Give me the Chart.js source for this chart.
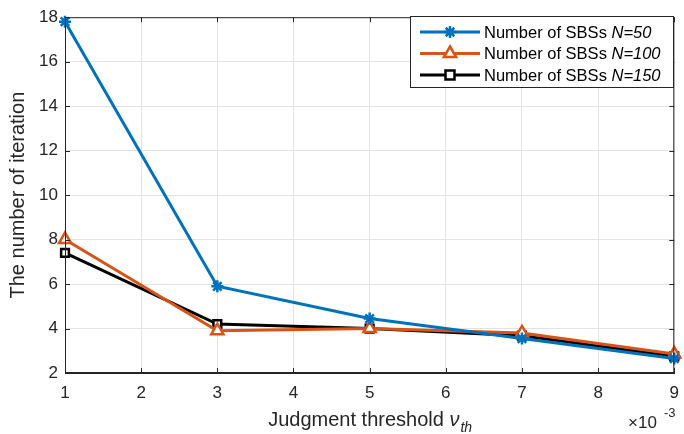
<!DOCTYPE html>
<html>
<head>
<meta charset="utf-8">
<script src="https://cdn.jsdelivr.net/npm/chart.js@4/dist/chart.umd.min.js"></script>
<style>
  html, body { margin: 0; padding: 0; background: #fff; overflow: hidden; }
  #wrap { width: 689px; height: 434px; }
</style>
</head>
<body>
<div id="wrap"><canvas id="iterChart"></canvas></div>
<script>
// threshold values (x 10^-3)
const thresholds = [1, 3, 5, 7, 9];
const iterN50 = [17.8, 5.9, 4.45, 3.55, 2.65];
const iterN100 = [8.0, 3.9, 4.0, 3.8, 2.85];
const iterN150 = [7.4, 4.2, 4.0, 3.68, 2.75];
const seriesNames = ['N=50', 'N=100', 'N=150'];

const FONT = '"Liberation Sans", Arial, Helvetica, sans-serif';
const BLUE = '#0072BD';
const ORANGE = '#D95319';

function toPoints(vals) {
    return thresholds.map((t, i) => ({ x: t, y: vals[i] }));
}

// draws a marker like the ones in the plot, for the legend
function drawMarker(ctx, style, x, y, color) {
    ctx.save();
    ctx.strokeStyle = color;
    ctx.lineWidth = 2.5;
    ctx.fillStyle = '#fff';
    ctx.beginPath();
    if (style === 'star') {
        const r = 6;
        for (let a = 0; a < 4; a++) {
            const ang = a * Math.PI / 4;
            ctx.moveTo(x - r * Math.cos(ang), y - r * Math.sin(ang));
            ctx.lineTo(x + r * Math.cos(ang), y + r * Math.sin(ang));
        }
        ctx.stroke();
    } else if (style === 'triangle') {
        const r = 7;
        ctx.moveTo(x, y - r);
        ctx.lineTo(x + r * 0.87, y + r * 0.5);
        ctx.lineTo(x - r * 0.87, y + r * 0.5);
        ctx.closePath();
        ctx.fill();
        ctx.stroke();
    } else {
        const r = 4.5;
        ctx.rect(x - r, y - r, 2 * r, 2 * r);
        ctx.fill();
        ctx.stroke();
    }
    ctx.restore();
}

const matlabLook = {
    id: 'matlabLook',
    afterDraw(chart) {
        const { ctx, chartArea: a, scales } = chart;
        ctx.save();
        // box
        ctx.strokeStyle = '#262626';
        ctx.lineWidth = 1;
        ctx.strokeRect(a.left + 0.5, a.top + 0.5, a.right - a.left - 1, a.bottom - a.top - 1);
        // inward ticks on all four sides
        ctx.beginPath();
        const tl = 5;
        scales.x.ticks.forEach(t => {
            const px = Math.round(scales.x.getPixelForValue(t.value)) + 0.5;
            ctx.moveTo(px, a.bottom); ctx.lineTo(px, a.bottom - tl);
            ctx.moveTo(px, a.top); ctx.lineTo(px, a.top + tl);
        });
        scales.y.ticks.forEach(t => {
            const py = Math.round(scales.y.getPixelForValue(t.value)) + 0.5;
            ctx.moveTo(a.left, py); ctx.lineTo(a.left + tl, py);
            ctx.moveTo(a.right, py); ctx.lineTo(a.right - tl, py);
        });
        ctx.stroke();

        // x axis title with italic nu_th
        ctx.fillStyle = '#262626';
        ctx.textBaseline = 'alphabetic';
        const base = 'Judgment threshold ';
        ctx.font = '20px ' + FONT;
        const w1 = ctx.measureText(base).width;
        ctx.font = 'italic 20px ' + FONT;
        const w2 = ctx.measureText('\u03BD').width;
        ctx.font = 'italic 14px ' + FONT;
        const w3 = ctx.measureText('th').width;
        let sx = (a.left + a.right) / 2 - (w1 + w2 + w3) / 2;
        const by = 426;
        ctx.font = '20px ' + FONT;
        ctx.fillText(base, sx, by);
        ctx.font = 'italic 20px ' + FONT;
        ctx.fillText('\u03BD', sx + w1, by);
        ctx.font = 'italic 14px ' + FONT;
        ctx.fillText('th', sx + w1 + w2 + 1, by + 6);

        // exponent label
        ctx.font = '17px ' + FONT;
        ctx.textAlign = 'left';
        ctx.fillText('\u00D710', 628, 428);
        ctx.font = '13px ' + FONT;
        ctx.fillText('-3', 664, 417);

        // legend box, anchored to the top right of the plot
        const lw = 264, lh = 72;
        const lx = Math.round(a.right) - lw, ly = Math.round(a.top) - 1;
        ctx.fillStyle = '#fff';
        ctx.fillRect(lx, ly, lw, lh);
        ctx.strokeStyle = '#262626';
        ctx.lineWidth = 1;
        ctx.strokeRect(lx + 0.5, ly + 0.5, lw - 1, lh - 1);
        const rows = [
            { color: BLUE, style: 'star' },
            { color: ORANGE, style: 'triangle' },
            { color: '#000', style: 'rect' }
        ];
        rows.forEach((r, i) => {
            const y = ly + 16 + i * 21.5;
            ctx.strokeStyle = r.color;
            ctx.lineWidth = 3;
            ctx.beginPath();
            ctx.moveTo(lx + 10, y);
            ctx.lineTo(lx + 70, y);
            ctx.stroke();
            drawMarker(ctx, r.style, lx + 40, y, r.color);
            ctx.fillStyle = '#000';
            ctx.textBaseline = 'middle';
            ctx.font = '16.5px ' + FONT;
            const t = 'Number of SBSs ';
            ctx.fillText(t, lx + 74, y + 1);
            const tw = ctx.measureText(t).width;
            ctx.font = 'italic 16.5px ' + FONT;
            ctx.fillText(seriesNames[i], lx + 74 + tw, y + 1);
        });
        ctx.restore();
    }
};

const ctx = document.getElementById('iterChart').getContext('2d');
const chart = new Chart(ctx, {
    type: 'line',
    data: {
        datasets: [
            {
                label: 'Number of SBSs N=50',
                data: toPoints(iterN50),
                borderColor: BLUE,
                pointBorderColor: BLUE,
                pointBackgroundColor: BLUE,
                pointStyle: 'star',
                pointRadius: 6,
                pointBorderWidth: 2.5,
                clip: false
            },
            {
                label: 'Number of SBSs N=100',
                data: toPoints(iterN100),
                borderColor: ORANGE,
                pointBorderColor: ORANGE,
                pointBackgroundColor: '#fff',
                pointStyle: 'triangle',
                pointRadius: 7,
                pointBorderWidth: 2.5,
                clip: false
            },
            {
                label: 'Number of SBSs N=150',
                data: toPoints(iterN150),
                borderColor: '#000',
                pointBorderColor: '#000',
                pointBackgroundColor: '#fff',
                pointStyle: 'rect',
                pointRadius: 5.5,
                pointBorderWidth: 2.5,
                clip: false
            }
        ]
    },
    options: {
        responsive: true,
        maintainAspectRatio: false,
        animation: false,
        devicePixelRatio: 1,
        layout: { padding: { top: 17, right: 0, left: 0, bottom: 0 } },
        elements: { line: { borderWidth: 3, tension: 0 } },
        plugins: {
            legend: { display: false },
            tooltip: { enabled: false }
        },
        scales: {
            x: {
                type: 'linear',
                min: 1,
                max: 9,
                ticks: {
                    stepSize: 1,
                    color: '#262626',
                    font: { family: FONT, size: 17 },
                    padding: 10
                },
                grid: { color: '#e3e3e3', drawTicks: false },
                border: { color: '#262626' },
                afterFit(s) { s.height = 61; }
            },
            y: {
                min: 2,
                max: 18,
                ticks: {
                    stepSize: 2,
                    color: '#262626',
                    font: { family: FONT, size: 17 },
                    padding: 7
                },
                grid: { color: '#e3e3e3', drawTicks: false },
                border: { color: '#262626' },
                title: {
                    display: true,
                    text: 'The number of iteration',
                    color: '#262626',
                    font: { family: FONT, size: 20 },
                    padding: { top: 6, bottom: 4 }
                },
                afterFit(s) { s.width = 65; }
            }
        }
    },
    plugins: [matlabLook]
});
</script>
</body>
</html>
